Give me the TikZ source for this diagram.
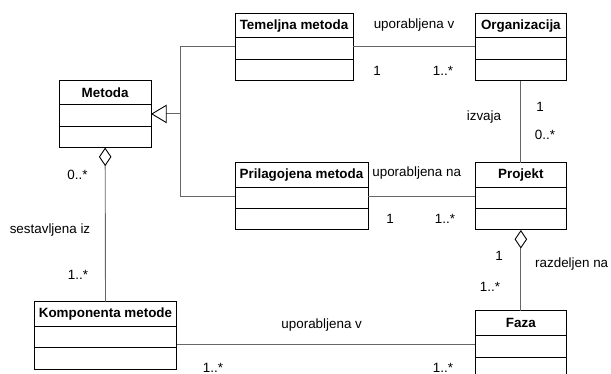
\documentclass[tikz,border=0pt]{standalone}
\usepackage{fontspec}
\setmainfont{Liberation Sans}
\usetikzlibrary{arrows.meta,calc}

\tikzset{
  classbox/.style={draw=black, line width=1pt, rectangle, inner sep=0pt, outer sep=0pt, minimum height=67.3pt},
  classtitle/.style={font=\fontsize{13.4}{16}\selectfont\bfseries, inner sep=0pt},
  boxline/.style={draw=black, line width=1pt},
  assoc/.style={draw=black!60, line width=0.9pt},
  aggr/.style={assoc, {Diamond[open, length=18.5pt, width=12.5pt, line width=0.9pt, black]}-},
  gen/.style={assoc, -{Triangle[open, length=15.7pt, width=18.6pt, line width=0.9pt, black]}},
  lbl/.style={font=\fontsize{13.4}{16}\selectfont, inner sep=0pt, anchor=base},
}

% class box: name, x, y (top left), width, title
\newcommand\umlclass[5]{%
  \node[classbox, minimum width=#4pt, anchor=north west] (#1) at (#2,#3) {};
  \node[classtitle] (#1-t) at ($(#1.north)+(0,12.35)$) {#5};
  \draw[boxline] ($(#1.north west)+(0,24.7)$) -- ($(#1.north east)+(0,24.7)$);
  \draw[boxline] ($(#1.north west)+(0,46)$) -- ($(#1.north east)+(0,46)$);
}

\begin{document}
\begin{tikzpicture}[x=1pt, y=-1pt]
  \useasboundingbox (0,0) rectangle (611,374);

  \umlclass{tem}{235}{13.3}{118}{Temeljna metoda}
  \umlclass{org}{475}{13.3}{91.7}{Organizacija}
  \umlclass{met}{59.3}{80.3}{91.7}{Metoda}
  \umlclass{pri}{235}{162.7}{133}{Prilagojena metoda}
  \umlclass{pro}{475}{162.7}{91.7}{Projekt}
  \umlclass{kom}{34.3}{301.7}{142.4}{Komponenta metode}
  \umlclass{faz}{475}{311}{91.7}{Faza}

  % associations
  \draw[assoc] (tem.east) -- (org.west);
  \draw[assoc] (org.south) -- (pro.north);
  \draw[assoc] (pri.east) -- (pro.west);
  \coordinate (kf) at ([yshift=-9pt]kom.east);
  \draw[assoc] (kf) -- (kf -| faz.west);

  % aggregations
  \draw[aggr] (met.south) -- (kom.north);
  \draw[aggr] (pro.south) -- (faz.north);

  % generalisation
  \coordinate (gj) at ([xshift=29pt]met.east);
  \draw[assoc] (tem.west) -| (gj);
  \draw[assoc] (pri.west) -| (gj);
  \draw[gen] (gj) -- (met.east);

  % labels
  \node[lbl] (l1) at (414,29) {uporabljena v};
  \node[lbl] (l2) at (377,76) {1};
  \node[lbl] (l3) at (443,76) {1..*};
  \node[lbl] (l4) at (484,121) {izvaja};
  \node[lbl] (l5) at (540,111.5) {1};
  \node[lbl] (l6) at (545,140) {0..*};
  \node[lbl] (l7) at (416.7,177) {uporabljena na};
  \node[lbl] (l8) at (390,224) {1};
  \node[lbl] (l9) at (445,224) {1..*};
  \node[lbl] (l10) at (499,261) {1};
  \node[lbl] (l11) at (490,291.5) {1..*};
  \node[lbl] (l12) at (571.7,267.5) {razdeljen na};
  \node[lbl] (l13) at (321.7,329) {uporabljena v};
  \node[lbl] (l14) at (213,372) {1..*};
  \node[lbl] (l15) at (443,372) {1..*};
  \node[lbl] (l16) at (77.5,180) {0..*};
  \node[lbl] (l17) at (50,234) {sestavljena iz};
  \node[lbl] (l18) at (78,280) {1..*};
\end{tikzpicture}
\end{document}
